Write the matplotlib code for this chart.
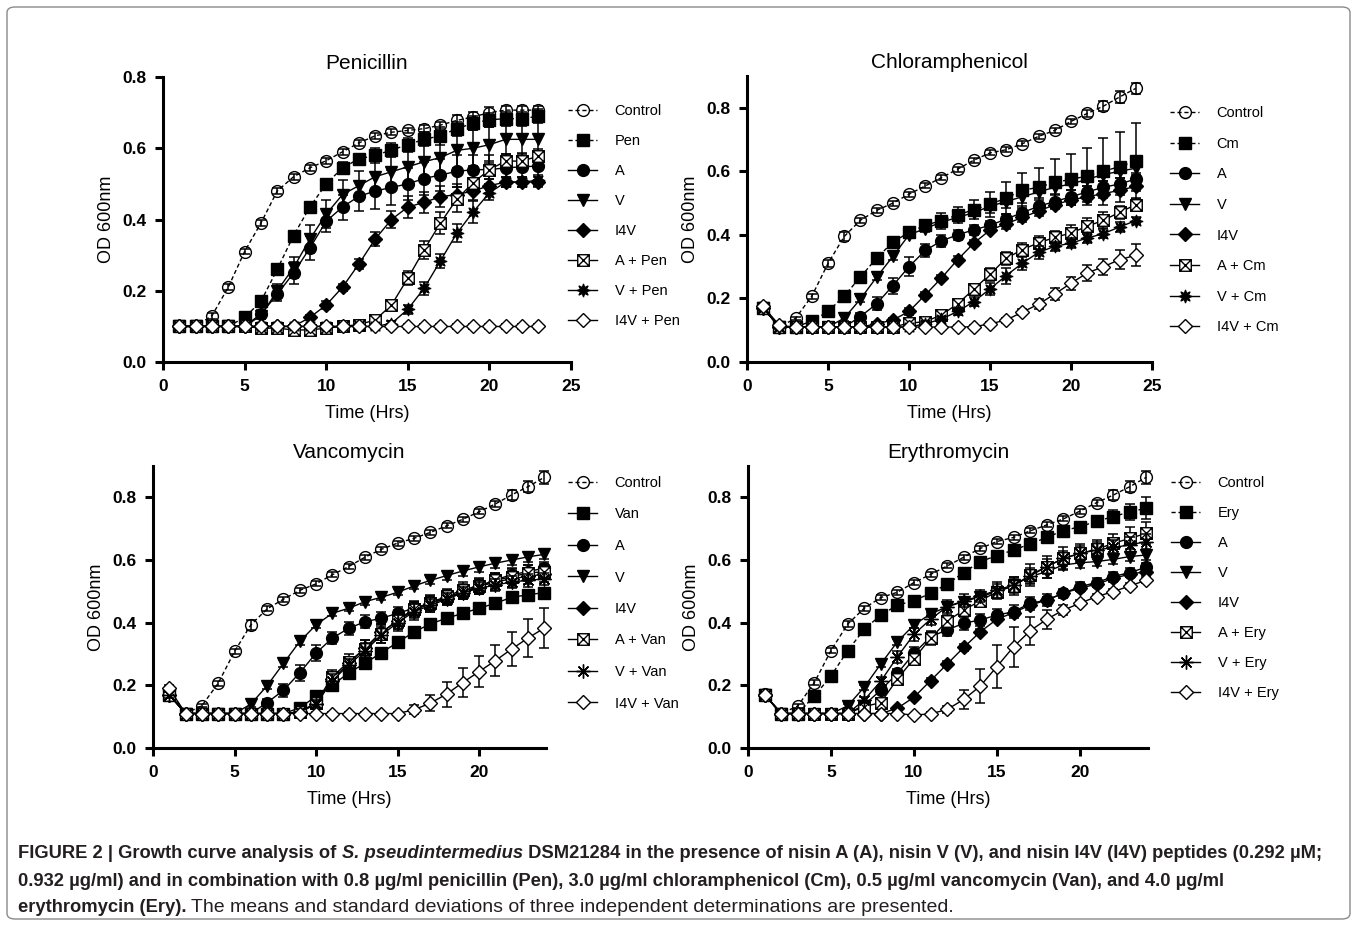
import matplotlib
matplotlib.use("Agg")
import matplotlib.pyplot as plt
from matplotlib.path import Path
from matplotlib.lines import Line2D
from matplotlib.patches import FancyBboxPatch

plt.rcParams['font.family'] = ['Liberation Sans', 'DejaVu Sans']

W, H = 1357, 926

HOURS_23 = list(range(1, 24))
HOURS_24 = list(range(1, 25))

# ---------------- Penicillin (t = 1..23) ----------------
ctrl_pen = [0.10, 0.10, 0.13, 0.21, 0.31, 0.39, 0.48, 0.52, 0.545, 0.565, 0.59, 0.615, 0.635, 0.645, 0.65, 0.655, 0.665, 0.678, 0.688, 0.70, 0.707, 0.707, 0.707]
pen = [0.10, 0.10, 0.10, 0.10, 0.125, 0.17, 0.26, 0.355, 0.435, 0.50, 0.545, 0.57, 0.58, 0.595, 0.61, 0.625, 0.635, 0.655, 0.67, 0.68, 0.683, 0.683, 0.69]
a_pen = [0.10, 0.10, 0.10, 0.10, 0.10, 0.135, 0.19, 0.25, 0.32, 0.395, 0.435, 0.465, 0.48, 0.49, 0.50, 0.515, 0.525, 0.535, 0.54, 0.54, 0.545, 0.548, 0.55]
v_pen = [0.10, 0.10, 0.10, 0.10, 0.10, 0.13, 0.20, 0.265, 0.345, 0.415, 0.47, 0.495, 0.52, 0.534, 0.548, 0.562, 0.574, 0.594, 0.60, 0.61, 0.625, 0.625, 0.625]
i4v_pen = [0.10, 0.10, 0.10, 0.10, 0.10, 0.10, 0.10, 0.10, 0.125, 0.16, 0.21, 0.275, 0.345, 0.40, 0.435, 0.448, 0.464, 0.47, 0.48, 0.495, 0.505, 0.505, 0.505]
a_plus_pen = [0.10, 0.10, 0.10, 0.10, 0.10, 0.095, 0.095, 0.09, 0.09, 0.095, 0.10, 0.105, 0.118, 0.16, 0.235, 0.315, 0.39, 0.457, 0.503, 0.54, 0.564, 0.564, 0.578]
v_plus_pen = [0.10, 0.10, 0.10, 0.10, 0.10, 0.10, 0.10, 0.10, 0.10, 0.10, 0.10, 0.10, 0.10, 0.108, 0.148, 0.207, 0.284, 0.361, 0.421, 0.475, 0.505, 0.505, 0.51]
i4v_plus_pen = [0.10, 0.10, 0.10, 0.10, 0.10, 0.10, 0.10, 0.10, 0.10, 0.10, 0.10, 0.10, 0.10, 0.10, 0.10, 0.10, 0.10, 0.10, 0.10, 0.10, 0.10, 0.10, 0.10]

err_ctrl_pen = [0.005, 0.005, 0.008, 0.008, 0.008, 0.008, 0.008, 0.008, 0.008, 0.008, 0.008, 0.008, 0.008, 0.008, 0.008, 0.01, 0.01, 0.015, 0.015, 0.015, 0.012, 0.012, 0.012]
err_pen = [0.005, 0.005, 0.005, 0.005, 0.008, 0.01, 0.01, 0.01, 0.01, 0.012, 0.015, 0.015, 0.02, 0.02, 0.02, 0.02, 0.025, 0.02, 0.02, 0.02, 0.02, 0.02, 0.02]
err_a_pen = [0.005, 0.005, 0.005, 0.005, 0.005, 0.01, 0.02, 0.03, 0.035, 0.03, 0.035, 0.04, 0.05, 0.05, 0.045, 0.045, 0.045, 0.045, 0.04, 0.04, 0.04, 0.04, 0.04]
err_v_pen = [0.005, 0.005, 0.005, 0.005, 0.005, 0.01, 0.02, 0.03, 0.04, 0.04, 0.04, 0.04, 0.045, 0.05, 0.05, 0.05, 0.05, 0.05, 0.05, 0.05, 0.05, 0.05, 0.05]
err_i4v_pen = [0.005, 0.005, 0.005, 0.005, 0.005, 0.005, 0.005, 0.005, 0.008, 0.01, 0.01, 0.015, 0.02, 0.025, 0.03, 0.03, 0.03, 0.03, 0.025, 0.02, 0.015, 0.015, 0.015]
err_a_plus_pen = [0.005, 0.005, 0.005, 0.005, 0.005, 0.005, 0.005, 0.005, 0.005, 0.005, 0.005, 0.005, 0.01, 0.012, 0.02, 0.025, 0.03, 0.035, 0.03, 0.025, 0.02, 0.02, 0.02]
err_v_plus_pen = [0.005, 0.005, 0.005, 0.005, 0.005, 0.005, 0.005, 0.005, 0.005, 0.005, 0.005, 0.005, 0.005, 0.008, 0.012, 0.018, 0.02, 0.025, 0.03, 0.02, 0.015, 0.015, 0.015]
err_i4v_plus_pen = [0.008, 0.008, 0.008, 0.008, 0.008, 0.008, 0.008, 0.008, 0.008, 0.008, 0.008, 0.008, 0.008, 0.008, 0.008, 0.008, 0.008, 0.008, 0.008, 0.008, 0.008, 0.008, 0.008]

# ---------------- Chloramphenicol (t = 1..24) ----------------
ctrl_cm = [0.17, 0.11, 0.138, 0.207, 0.31, 0.395, 0.446, 0.477, 0.50, 0.528, 0.554, 0.58, 0.607, 0.635, 0.658, 0.668, 0.687, 0.71, 0.729, 0.757, 0.782, 0.805, 0.834, 0.861]
cm = [0.17, 0.11, 0.11, 0.129, 0.159, 0.208, 0.267, 0.327, 0.377, 0.408, 0.43, 0.445, 0.463, 0.479, 0.496, 0.516, 0.54, 0.55, 0.565, 0.575, 0.585, 0.60, 0.615, 0.632]
a_cm = [0.17, 0.11, 0.11, 0.11, 0.11, 0.11, 0.143, 0.183, 0.24, 0.30, 0.351, 0.381, 0.40, 0.416, 0.43, 0.45, 0.47, 0.49, 0.505, 0.52, 0.535, 0.55, 0.56, 0.576]
v_cm = [0.17, 0.11, 0.11, 0.11, 0.11, 0.138, 0.198, 0.267, 0.332, 0.40, 0.42, 0.44, 0.455, 0.47, 0.49, 0.505, 0.52, 0.535, 0.55, 0.56, 0.575, 0.59, 0.60, 0.61]
i4v_cm = [0.17, 0.11, 0.11, 0.11, 0.11, 0.11, 0.11, 0.12, 0.132, 0.159, 0.211, 0.264, 0.322, 0.374, 0.415, 0.435, 0.455, 0.475, 0.495, 0.51, 0.52, 0.53, 0.54, 0.553]
a_plus_cm = [0.17, 0.11, 0.11, 0.11, 0.11, 0.11, 0.11, 0.11, 0.11, 0.122, 0.127, 0.148, 0.183, 0.229, 0.276, 0.326, 0.354, 0.375, 0.392, 0.406, 0.427, 0.446, 0.471, 0.495]
v_plus_cm = [0.17, 0.11, 0.11, 0.11, 0.11, 0.11, 0.11, 0.11, 0.11, 0.11, 0.12, 0.135, 0.159, 0.19, 0.23, 0.272, 0.311, 0.345, 0.364, 0.374, 0.39, 0.404, 0.425, 0.445]
i4v_plus_cm = [0.175, 0.115, 0.11, 0.11, 0.11, 0.11, 0.11, 0.11, 0.11, 0.11, 0.11, 0.11, 0.11, 0.111, 0.12, 0.132, 0.157, 0.182, 0.214, 0.248, 0.28, 0.30, 0.322, 0.336]

err_ctrl_cm = [0.01, 0.005, 0.005, 0.008, 0.01, 0.015, 0.008, 0.008, 0.008, 0.008, 0.008, 0.008, 0.008, 0.008, 0.008, 0.008, 0.008, 0.008, 0.008, 0.008, 0.01, 0.015, 0.02, 0.018]
err_cm = [0.01, 0.005, 0.005, 0.005, 0.005, 0.008, 0.01, 0.01, 0.01, 0.01, 0.015, 0.025, 0.025, 0.03, 0.04, 0.05, 0.055, 0.06, 0.075, 0.08, 0.09, 0.105, 0.11, 0.12]
err_a_cm = [0.01, 0.005, 0.005, 0.005, 0.005, 0.005, 0.01, 0.02, 0.025, 0.03, 0.02, 0.02, 0.015, 0.015, 0.015, 0.015, 0.02, 0.02, 0.02, 0.02, 0.02, 0.02, 0.02, 0.02]
err_v_cm = [0.01, 0.005, 0.005, 0.005, 0.005, 0.01, 0.01, 0.01, 0.01, 0.01, 0.01, 0.01, 0.01, 0.01, 0.02, 0.02, 0.02, 0.02, 0.02, 0.02, 0.02, 0.02, 0.02, 0.02]
err_i4v_cm = [0.01, 0.005, 0.005, 0.005, 0.005, 0.005, 0.005, 0.005, 0.008, 0.01, 0.01, 0.01, 0.01, 0.01, 0.01, 0.015, 0.015, 0.015, 0.015, 0.015, 0.015, 0.015, 0.015, 0.015]
err_a_plus_cm = [0.01, 0.005, 0.005, 0.005, 0.005, 0.005, 0.005, 0.005, 0.005, 0.005, 0.005, 0.008, 0.01, 0.015, 0.02, 0.02, 0.02, 0.02, 0.02, 0.025, 0.025, 0.025, 0.02, 0.02]
err_v_plus_cm = [0.01, 0.005, 0.005, 0.005, 0.005, 0.005, 0.005, 0.005, 0.005, 0.005, 0.005, 0.008, 0.01, 0.015, 0.02, 0.025, 0.02, 0.02, 0.015, 0.015, 0.015, 0.015, 0.015, 0.01]
err_i4v_plus_cm = [0.01, 0.005, 0.005, 0.005, 0.005, 0.005, 0.005, 0.005, 0.005, 0.005, 0.005, 0.005, 0.005, 0.005, 0.005, 0.008, 0.01, 0.015, 0.02, 0.02, 0.025, 0.025, 0.03, 0.035]

# ---------------- Vancomycin (t = 1..24) ----------------
ctrl_van = [0.186, 0.11, 0.135, 0.207, 0.308, 0.393, 0.444, 0.475, 0.503, 0.524, 0.553, 0.579, 0.609, 0.634, 0.654, 0.669, 0.688, 0.709, 0.73, 0.754, 0.779, 0.808, 0.834, 0.864]
van = [0.17, 0.11, 0.11, 0.11, 0.11, 0.11, 0.11, 0.11, 0.128, 0.165, 0.20, 0.24, 0.27, 0.304, 0.337, 0.37, 0.396, 0.414, 0.43, 0.446, 0.462, 0.481, 0.489, 0.496]
a_van = [0.17, 0.11, 0.11, 0.11, 0.11, 0.11, 0.145, 0.184, 0.24, 0.303, 0.351, 0.382, 0.403, 0.414, 0.43, 0.446, 0.462, 0.478, 0.496, 0.515, 0.537, 0.553, 0.563, 0.574]
v_van = [0.17, 0.11, 0.11, 0.11, 0.11, 0.14, 0.199, 0.27, 0.34, 0.393, 0.43, 0.446, 0.467, 0.481, 0.497, 0.517, 0.535, 0.55, 0.565, 0.578, 0.59, 0.60, 0.61, 0.618]
i4v_van = [0.17, 0.11, 0.11, 0.11, 0.11, 0.11, 0.11, 0.11, 0.115, 0.14, 0.22, 0.27, 0.32, 0.37, 0.405, 0.44, 0.46, 0.48, 0.50, 0.515, 0.53, 0.54, 0.548, 0.555]
a_plus_van = [0.17, 0.11, 0.11, 0.11, 0.11, 0.11, 0.11, 0.11, 0.115, 0.145, 0.228, 0.275, 0.316, 0.365, 0.41, 0.443, 0.464, 0.484, 0.505, 0.518, 0.535, 0.547, 0.558, 0.563]
v_plus_van = [0.17, 0.11, 0.11, 0.11, 0.11, 0.11, 0.11, 0.11, 0.115, 0.14, 0.215, 0.265, 0.31, 0.36, 0.40, 0.435, 0.455, 0.475, 0.495, 0.51, 0.52, 0.53, 0.535, 0.54]
i4v_plus_van = [0.19, 0.11, 0.11, 0.11, 0.11, 0.11, 0.11, 0.11, 0.11, 0.11, 0.11, 0.11, 0.11, 0.11, 0.11, 0.122, 0.143, 0.172, 0.209, 0.244, 0.279, 0.316, 0.351, 0.383]

err_ctrl_van = [0.01, 0.005, 0.005, 0.008, 0.008, 0.015, 0.008, 0.008, 0.008, 0.008, 0.008, 0.008, 0.008, 0.008, 0.008, 0.008, 0.008, 0.008, 0.008, 0.008, 0.01, 0.015, 0.018, 0.02]
err_van = [0.01, 0.005, 0.005, 0.005, 0.005, 0.005, 0.005, 0.005, 0.008, 0.01, 0.01, 0.012, 0.012, 0.012, 0.012, 0.012, 0.012, 0.012, 0.012, 0.012, 0.012, 0.012, 0.012, 0.012]
err_a_van = [0.01, 0.005, 0.005, 0.005, 0.005, 0.005, 0.01, 0.02, 0.025, 0.025, 0.02, 0.02, 0.02, 0.02, 0.02, 0.02, 0.02, 0.02, 0.02, 0.02, 0.02, 0.02, 0.02, 0.02]
err_v_van = [0.01, 0.005, 0.005, 0.005, 0.005, 0.01, 0.01, 0.01, 0.01, 0.01, 0.01, 0.01, 0.01, 0.01, 0.01, 0.01, 0.012, 0.015, 0.015, 0.015, 0.015, 0.015, 0.015, 0.015]
err_i4v_van = [0.01, 0.005, 0.005, 0.005, 0.005, 0.005, 0.005, 0.005, 0.008, 0.01, 0.015, 0.02, 0.025, 0.025, 0.025, 0.025, 0.025, 0.025, 0.025, 0.025, 0.025, 0.025, 0.025, 0.025]
err_a_plus_van = [0.01, 0.005, 0.005, 0.005, 0.005, 0.005, 0.005, 0.005, 0.008, 0.012, 0.02, 0.025, 0.03, 0.03, 0.03, 0.025, 0.025, 0.025, 0.025, 0.025, 0.025, 0.025, 0.025, 0.025]
err_v_plus_van = [0.01, 0.005, 0.005, 0.005, 0.005, 0.005, 0.005, 0.005, 0.008, 0.012, 0.02, 0.02, 0.025, 0.025, 0.025, 0.025, 0.02, 0.02, 0.02, 0.02, 0.02, 0.02, 0.02, 0.02]
err_i4v_plus_van = [0.01, 0.005, 0.005, 0.005, 0.005, 0.005, 0.005, 0.005, 0.005, 0.005, 0.005, 0.005, 0.005, 0.005, 0.005, 0.015, 0.025, 0.04, 0.045, 0.05, 0.05, 0.055, 0.06, 0.065]

# ---------------- Erythromycin (t = 1..24) ----------------
ctrl_ery = [0.171, 0.11, 0.134, 0.209, 0.311, 0.395, 0.446, 0.48, 0.497, 0.528, 0.554, 0.581, 0.609, 0.637, 0.659, 0.672, 0.693, 0.712, 0.731, 0.756, 0.783, 0.807, 0.834, 0.864]
ery = [0.17, 0.11, 0.11, 0.166, 0.23, 0.31, 0.379, 0.424, 0.456, 0.47, 0.494, 0.523, 0.56, 0.595, 0.614, 0.632, 0.651, 0.672, 0.694, 0.706, 0.724, 0.738, 0.754, 0.765]
a_ery = [0.17, 0.11, 0.11, 0.11, 0.11, 0.11, 0.137, 0.185, 0.238, 0.302, 0.355, 0.377, 0.398, 0.409, 0.424, 0.435, 0.462, 0.472, 0.494, 0.515, 0.528, 0.547, 0.56, 0.577]
v_ery = [0.17, 0.11, 0.11, 0.11, 0.11, 0.134, 0.194, 0.268, 0.339, 0.393, 0.428, 0.451, 0.467, 0.483, 0.499, 0.52, 0.547, 0.563, 0.584, 0.591, 0.595, 0.602, 0.611, 0.616]
i4v_ery = [0.17, 0.11, 0.11, 0.11, 0.11, 0.11, 0.11, 0.11, 0.127, 0.162, 0.215, 0.268, 0.321, 0.371, 0.411, 0.432, 0.456, 0.472, 0.494, 0.51, 0.523, 0.541, 0.555, 0.563]
a_plus_ery = [0.17, 0.11, 0.11, 0.11, 0.11, 0.11, 0.132, 0.145, 0.22, 0.285, 0.35, 0.405, 0.44, 0.47, 0.499, 0.517, 0.552, 0.579, 0.605, 0.621, 0.634, 0.653, 0.669, 0.685]
v_plus_ery = [0.17, 0.11, 0.11, 0.11, 0.11, 0.11, 0.153, 0.213, 0.291, 0.363, 0.411, 0.451, 0.47, 0.485, 0.504, 0.52, 0.549, 0.579, 0.605, 0.621, 0.632, 0.64, 0.648, 0.659]
i4v_plus_ery = [0.17, 0.11, 0.11, 0.11, 0.11, 0.11, 0.11, 0.11, 0.11, 0.105, 0.109, 0.123, 0.155, 0.198, 0.26, 0.323, 0.374, 0.411, 0.44, 0.462, 0.483, 0.499, 0.517, 0.536]

err_ctrl_ery = [0.01, 0.005, 0.005, 0.008, 0.008, 0.01, 0.008, 0.008, 0.008, 0.008, 0.008, 0.008, 0.008, 0.008, 0.008, 0.008, 0.008, 0.008, 0.008, 0.008, 0.01, 0.015, 0.018, 0.02]
err_ery = [0.01, 0.005, 0.005, 0.005, 0.005, 0.005, 0.005, 0.005, 0.005, 0.005, 0.005, 0.005, 0.005, 0.005, 0.005, 0.005, 0.005, 0.005, 0.01, 0.01, 0.015, 0.02, 0.025, 0.035]
err_a_ery = [0.01, 0.005, 0.005, 0.005, 0.005, 0.005, 0.005, 0.01, 0.015, 0.02, 0.02, 0.02, 0.02, 0.02, 0.02, 0.02, 0.02, 0.02, 0.015, 0.015, 0.015, 0.015, 0.015, 0.015]
err_v_ery = [0.01, 0.005, 0.005, 0.005, 0.005, 0.005, 0.008, 0.01, 0.01, 0.01, 0.01, 0.01, 0.01, 0.01, 0.015, 0.02, 0.02, 0.02, 0.015, 0.015, 0.015, 0.015, 0.015, 0.015]
err_i4v_ery = [0.01, 0.005, 0.005, 0.005, 0.005, 0.005, 0.005, 0.005, 0.005, 0.005, 0.008, 0.01, 0.01, 0.01, 0.01, 0.01, 0.01, 0.01, 0.01, 0.01, 0.01, 0.01, 0.01, 0.01]
err_a_plus_ery = [0.01, 0.005, 0.005, 0.005, 0.005, 0.005, 0.005, 0.01, 0.015, 0.02, 0.02, 0.02, 0.02, 0.02, 0.025, 0.03, 0.035, 0.035, 0.035, 0.03, 0.03, 0.03, 0.035, 0.035]
err_v_plus_ery = [0.01, 0.005, 0.005, 0.005, 0.005, 0.005, 0.01, 0.015, 0.02, 0.02, 0.02, 0.02, 0.02, 0.02, 0.025, 0.025, 0.025, 0.025, 0.025, 0.025, 0.025, 0.025, 0.025, 0.025]
err_i4v_plus_ery = [0.01, 0.005, 0.005, 0.005, 0.005, 0.005, 0.005, 0.005, 0.005, 0.005, 0.005, 0.01, 0.03, 0.055, 0.07, 0.064, 0.045, 0.03, 0.015, 0.01, 0.01, 0.01, 0.01, 0.01]

LABELS_PEN = ['Control', 'Pen', 'A', 'V', 'I4V', 'A + Pen', 'V + Pen', 'I4V + Pen']
LABELS_CM = ['Control', 'Cm', 'A', 'V', 'I4V', 'A + Cm', 'V + Cm', 'I4V + Cm']
LABELS_VAN = ['Control', 'Van', 'A', 'V', 'I4V', 'A + Van', 'V + Van', 'I4V + Van']
LABELS_ERY = ['Control', 'Ery', 'A', 'V', 'I4V', 'A + Ery', 'V + Ery', 'I4V + Ery']

# crossed square marker
CROSS_SQUARE = Path(
    [(-1, -1), (1, -1), (1, 1), (-1, 1), (-1, -1), (-1, -1), (1, 1), (-1, 1), (1, -1)],
    [Path.MOVETO, Path.LINETO, Path.LINETO, Path.LINETO, Path.CLOSEPOLY,
     Path.MOVETO, Path.LINETO, Path.MOVETO, Path.LINETO])


def series_styles(drug_dashed, bold_star):
    star = dict(marker=(8, 1, 0), ms=9.5, mfc='black', mew=0.8) if bold_star \
        else dict(marker=(8, 2, 0), ms=10, mfc='black', mew=1.0)
    return [
        dict(marker='o', ms=8.5, mfc='none', mew=1.0, ls='--'),
        dict(marker='s', ms=8, mfc='black', mew=1.0, ls='--' if drug_dashed else '-'),
        dict(marker='o', ms=8.5, mfc='black', mew=1.0, ls='-'),
        dict(marker='v', ms=9, mfc='black', mew=1.0, ls='-'),
        dict(marker='D', ms=7, mfc='black', mew=1.0, ls='-'),
        dict(marker=CROSS_SQUARE, ms=8.3, mfc='white', mew=1.0, ls='-'),
        dict(star, ls='-'),
        dict(marker='D', ms=7.5, mfc='white', mew=1.0, ls='-'),
    ]


def line_kw(st):
    return dict(color='black', lw=1.0, ls=st['ls'],
                dashes=(3, 2) if st['ls'] == '--' else (None, None),
                marker=st['marker'], ms=st['ms'], mfc=st['mfc'], mec='black',
                mew=st['mew'])


def draw_panel(fig, rect_px, hours, values, errors, labels, styles, title,
               xmax, xticks, ymax, yticks, legend_px, spacing):
    l, t, r, b = rect_px
    ax = fig.add_axes([l / W, 1 - b / H, (r - l) / W, (b - t) / H])
    z = 3
    for y, e, st in zip(values, errors, styles):
        ax.errorbar(hours, y, yerr=e, fmt='none', ecolor='black', elinewidth=1.1,
                    capsize=3.5, capthick=1.1, zorder=z, clip_on=False)
        ax.plot(hours, y, zorder=z + 0.5, clip_on=False, **line_kw(st))
        z += 1
    ax.set_xlim(0, xmax)
    ax.set_ylim(0, ymax)
    ax.set_xticks(xticks)
    ax.set_yticks(yticks)
    ax.set_yticklabels(['%.1f' % v for v in yticks])
    for s in ['top', 'right']:
        ax.spines[s].set_visible(False)
    for s in ['left', 'bottom']:
        ax.spines[s].set_linewidth(2.2)
    ax.tick_params(direction='out', length=6, width=2.2, labelsize=12.5, pad=6)
    for lab in ax.get_xticklabels() + ax.get_yticklabels():
        lab.set_fontweight('bold')
    ax.set_xlabel('Time (Hrs)', fontsize=13, labelpad=8)
    ax.set_ylabel('OD 600nm', fontsize=13, labelpad=5)
    ax.set_title(title, fontsize=15, pad=6)

    handles = [Line2D([], [], **line_kw(st)) for st in styles]
    lx, ly = legend_px
    ax.legend(handles, labels, loc='upper left', bbox_to_anchor=(lx / W, 1 - ly / H),
              bbox_transform=fig.transFigure, frameon=False, borderpad=0,
              borderaxespad=0, handlelength=2.0, handletextpad=1.2,
              labelspacing=spacing, fontsize=10.5)
    return ax


fig = plt.figure(figsize=(W / 100, H / 100), dpi=100)
fig.patch.set_facecolor('white')

border = FancyBboxPatch((7 / W, 7 / H), 1343 / W, 912 / H,
                        boxstyle='round,pad=0,rounding_size=0.006',
                        transform=fig.transFigure, fill=False,
                        edgecolor='#8a8a8a', lw=1.0)
fig.patches.append(border)

draw_panel(fig, (163, 77, 571, 362), HOURS_23,
           [ctrl_pen, pen, a_pen, v_pen, i4v_pen, a_plus_pen, v_plus_pen, i4v_plus_pen],
           [err_ctrl_pen, err_pen, err_a_pen, err_v_pen, err_i4v_pen, err_a_plus_pen,
            err_v_plus_pen, err_i4v_plus_pen],
           LABELS_PEN, series_styles(True, True), 'Penicillin',
           25, [0, 5, 10, 15, 20, 25], 0.8, [0.0, 0.2, 0.4, 0.6, 0.8],
           (568, 104), 1.1)

draw_panel(fig, (747, 76, 1152, 362), HOURS_24,
           [ctrl_cm, cm, a_cm, v_cm, i4v_cm, a_plus_cm, v_plus_cm, i4v_plus_cm],
           [err_ctrl_cm, err_cm, err_a_cm, err_v_cm, err_i4v_cm, err_a_plus_cm,
            err_v_plus_cm, err_i4v_plus_cm],
           LABELS_CM, series_styles(True, True), 'Chloramphenicol',
           25, [0, 5, 10, 15, 20, 25], 0.9, [0.0, 0.2, 0.4, 0.6, 0.8],
           (1170, 106), 1.14)

draw_panel(fig, (153, 466, 546, 748), HOURS_24,
           [ctrl_van, van, a_van, v_van, i4v_van, a_plus_van, v_plus_van, i4v_plus_van],
           [err_ctrl_van, err_van, err_a_van, err_v_van, err_i4v_van, err_a_plus_van,
            err_v_plus_van, err_i4v_plus_van],
           LABELS_VAN, series_styles(False, False), 'Vancomycin',
           24.1, [0, 5, 10, 15, 20], 0.9, [0.0, 0.2, 0.4, 0.6, 0.8],
           (568, 476), 1.2)

draw_panel(fig, (748, 466, 1148, 748), HOURS_24,
           [ctrl_ery, ery, a_ery, v_ery, i4v_ery, a_plus_ery, v_plus_ery, i4v_plus_ery],
           [err_ctrl_ery, err_ery, err_a_ery, err_v_ery, err_i4v_ery, err_a_plus_ery,
            err_v_plus_ery, err_i4v_plus_ery],
           LABELS_ERY, series_styles(True, False), 'Erythromycin',
           24.1, [0, 5, 10, 15, 20], 0.9, [0.0, 0.2, 0.4, 0.6, 0.8],
           (1171, 476), 1.1)

# caption, drawn piece by piece so that bold / italic / normal runs follow each other
CAPTION = [
    [("FIGURE 2 | Growth curve analysis of ", 'bold', 'normal'),
     ("S. pseudintermedius", 'bold', 'italic'),
     (" DSM21284 in the presence of nisin A (A), nisin V (V), and nisin I4V (I4V) peptides (0.292 \u00b5M;", 'bold', 'normal')],
    [("0.932 \u00b5g/ml) and in combination with 0.8 \u00b5g/ml penicillin (Pen), 3.0 \u00b5g/ml chloramphenicol (Cm), 0.5 \u00b5g/ml vancomycin (Van), and 4.0 \u00b5g/ml", 'bold', 'normal')],
    [("erythromycin (Ery).", 'bold', 'normal'),
     (" The means and standard deviations of three independent determinations are presented.", 'normal', 'normal')],
]
CAPTION_Y = [854, 881, 908]

fig.canvas.draw()
renderer = fig.canvas.get_renderer()
for line, ypx in zip(CAPTION, CAPTION_Y):
    xpx = 18
    for txt, weight, style in line:
        size = 13.2 if weight == 'bold' else 14
        tt = fig.text(xpx / W, 1 - ypx / H, txt, fontsize=size, fontweight=weight,
                      fontstyle=style, va='center', ha='left', color='#231f20')
        bb = tt.get_window_extent(renderer=renderer)
        xpx = bb.x1

fig.savefig('out.png', dpi=100, facecolor='white')
